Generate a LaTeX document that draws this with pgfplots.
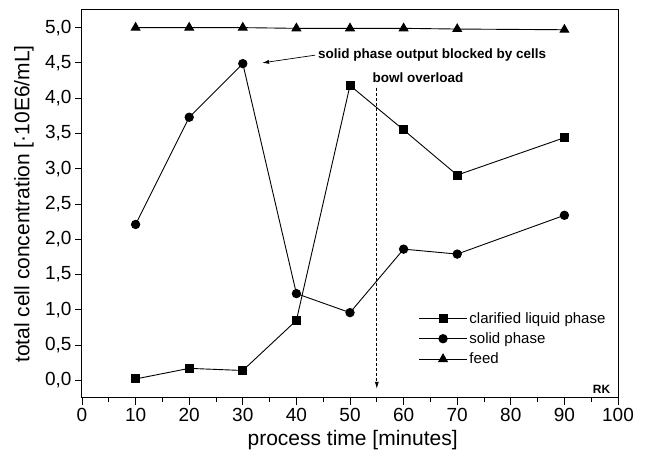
\documentclass[border=0pt]{standalone}
\usepackage{pgfplots}
\pgfplotsset{compat=1.18}
\usepackage{fontspec}
\setmainfont{Liberation Sans}
\usetikzlibrary{arrows.meta}
\begin{document}
\begin{tikzpicture}
\begin{axis}[
  scale only axis,
  width=536pt, height=388pt,
  xmin=0, xmax=100, ymin=-0.25, ymax=5.25,
  xtick={0,10,...,100},
  ytick={0,0.5,...,5},
  minor x tick num=1,
  minor y tick num=0,
  tick align=outside,
  xtick pos=left, ytick pos=left,
  major tick length=7pt, minor tick length=4pt,
  axis line style={line width=1pt},
  tick style={line width=0.9pt, black},
  /pgf/number format/assume math mode=true,
  ticklabel style={font=\fontsize{19}{21}\selectfont},
  yticklabel style={/pgf/number format/.cd, use comma, fixed, fixed zerofill, precision=1},
  xticklabel style={/pgf/number format/.cd, fixed, precision=0},
  xlabel={process time [minutes]},
  ylabel={total cell concentration [·10E6/mL]},
  label style={font=\fontsize{21}{23}\selectfont},
  xlabel style={at={(rel axis cs:0.505,0)}, anchor=center, yshift=-42pt},
  ylabel style={at={(rel axis cs:0,0.5)}, anchor=center, yshift=58pt},
  legend style={draw=none, fill=none, at={(rel axis cs:0.622,0.232)}, anchor=north west,
    font=\fontsize{15}{17}\selectfont, row sep=4pt},
  legend cell align=left,
  legend image code/.code={\draw[mark repeat=2, mark phase=2] plot coordinates {(0pt,0pt) (24pt,0pt) (48pt,0pt)};},
  every axis plot/.append style={black, line width=0.9pt, mark options={solid, fill=black}},
]
\addplot[mark=square*, mark size=4pt] coordinates {
(10,0.02) (20,0.17) (30,0.14) (40,0.85) (50,4.18) (60,3.55) (70,2.91) (90,3.44)};
\addlegendentry{clarified liquid phase}
\addplot[mark=*, mark size=4.2pt] coordinates {
(10,2.21) (20,3.73) (30,4.49) (40,1.23) (50,0.96) (60,1.86) (70,1.79) (90,2.34)};
\addlegendentry{solid phase}
\addplot[mark=triangle*, mark size=5pt] coordinates {
(10,5.0) (20,5.0) (30,5.0) (40,4.99) (50,4.99) (60,4.99) (70,4.98) (90,4.97)};
\addlegendentry{feed}
\draw[-{Latex[length=7pt,width=4pt]}, line width=0.7pt] (axis cs:43.5,4.61) -- (axis cs:33.6,4.50);
\node[anchor=west, font=\bfseries\fontsize{13.5}{15}\selectfont, inner sep=0pt] at (axis cs:44,4.61) {solid phase output blocked by cells};
\node[font=\bfseries\fontsize{13.5}{15}\selectfont, inner sep=0pt] at (axis cs:62.7,4.29) {bowl overload};
\draw[dashed, dash pattern=on 3pt off 2pt, line width=0.7pt, -{Latex[length=7pt,width=4pt]}] (axis cs:55,4.15) -- (axis cs:55,-0.12);
\node[font=\bfseries\fontsize{12}{13}\selectfont, anchor=east, inner sep=0pt] at (axis cs:98.6,-0.13) {RK};
\end{axis}
\path (current axis.south west) ++(-82pt,-61pt);
\path (current axis.north east) ++(29pt,10pt);
\end{tikzpicture}
\end{document}
